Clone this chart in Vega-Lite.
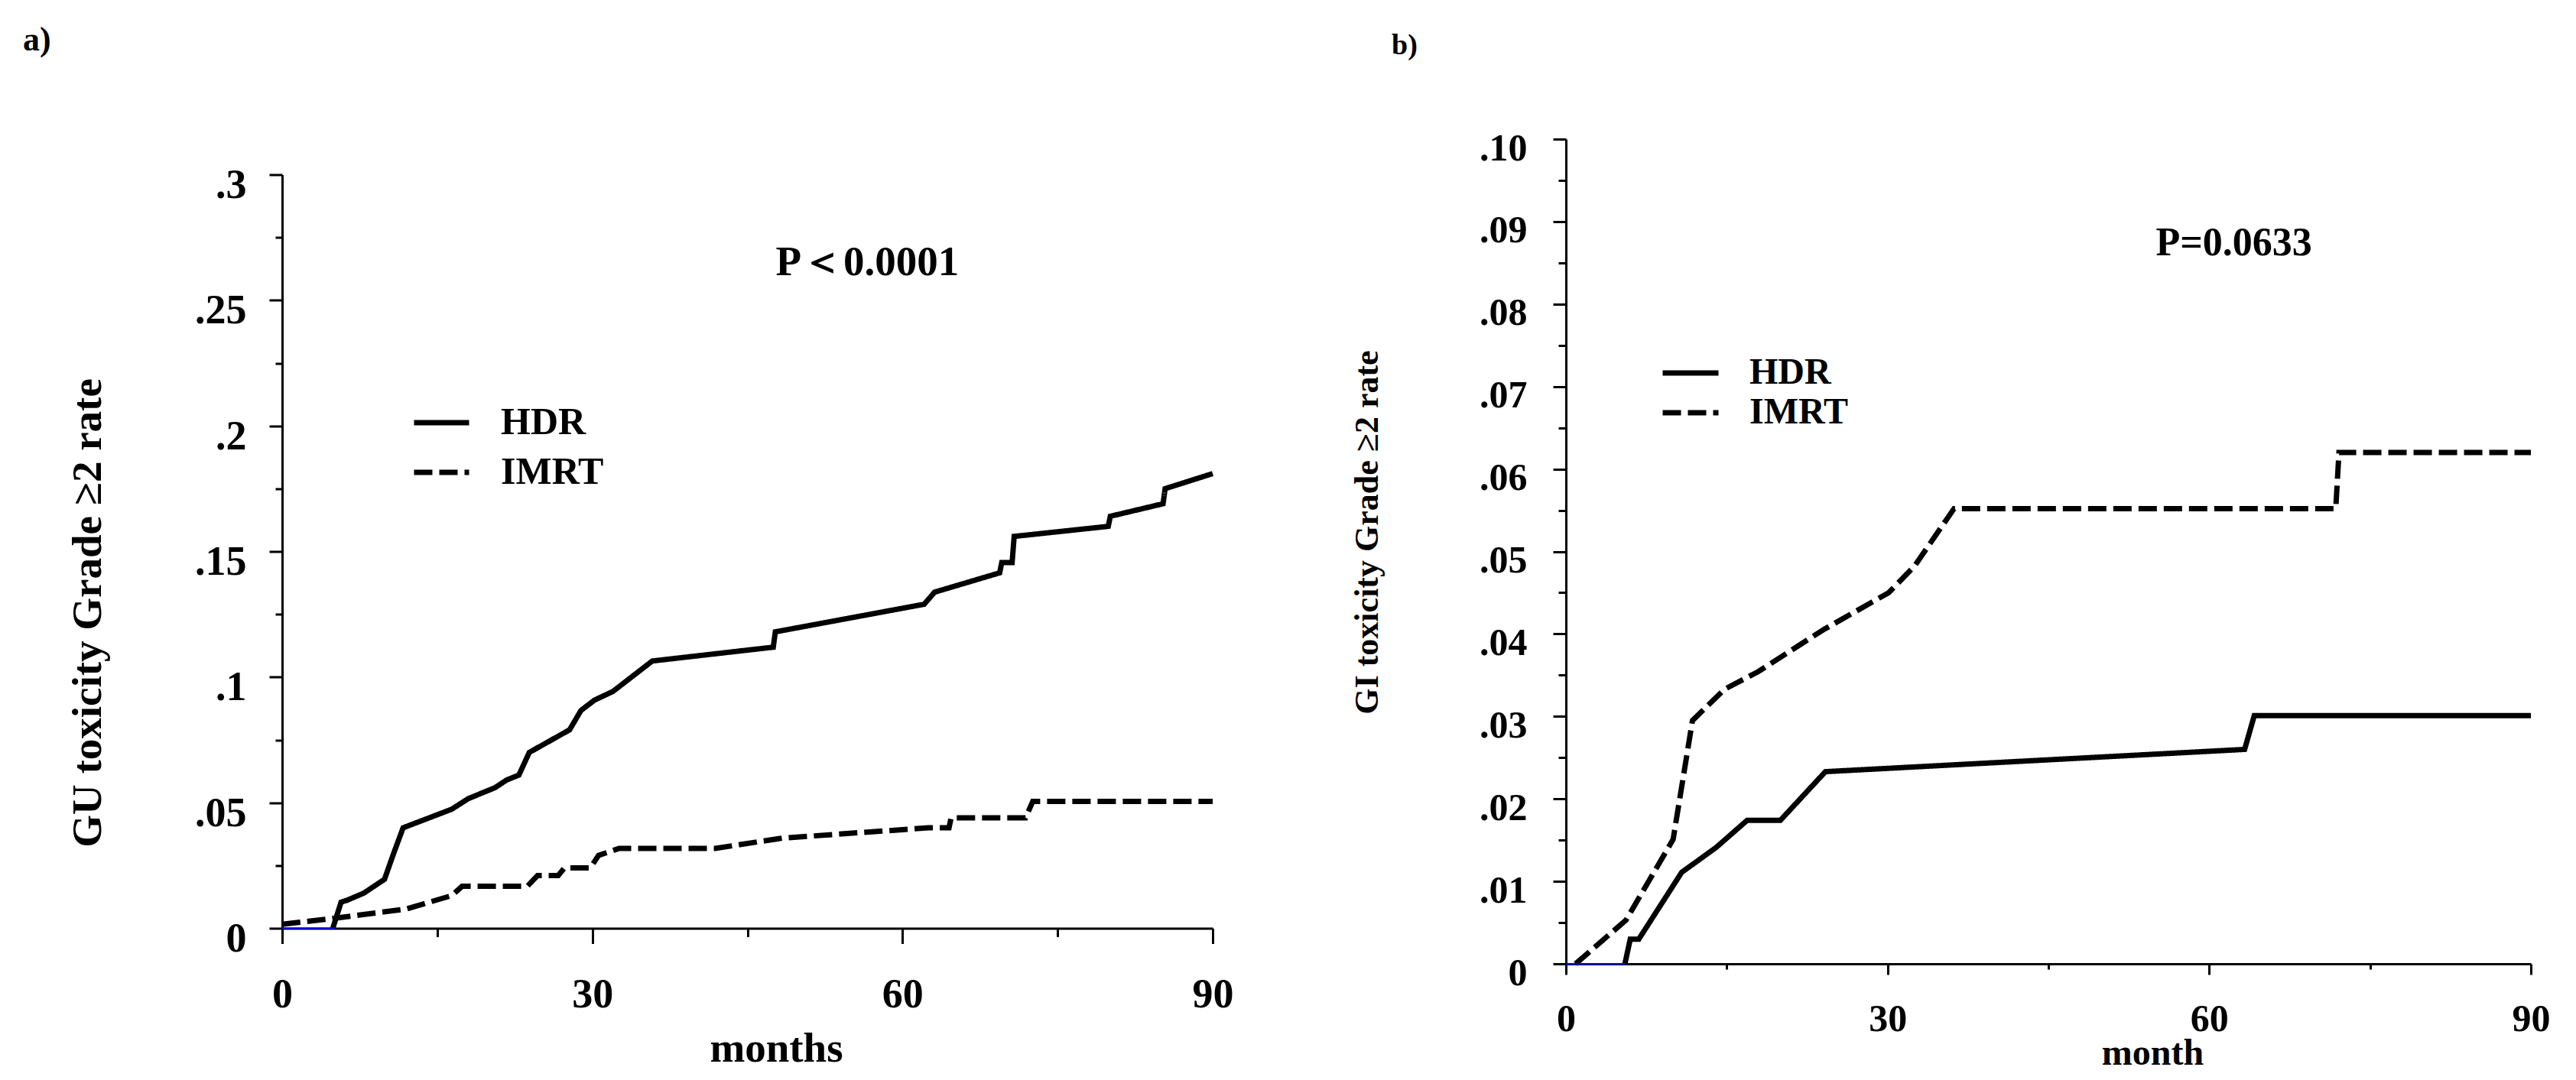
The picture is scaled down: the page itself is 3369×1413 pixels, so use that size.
{
  "$schema": "https://vega.github.io/schema/vega-lite/v6.json",
  "padding": {"left": 30, "top": 30, "right": 5, "bottom": 5},
  "background": "white",
  "datasets": {
    "gu": [
      {"group": "HDR", "month": 4.9, "rate": 0},
      {"group": "HDR", "month": 5.7, "rate": 0.0104},
      {"group": "HDR", "month": 6.3, "rate": 0.0112},
      {"group": "HDR", "month": 7.9, "rate": 0.014},
      {"group": "HDR", "month": 9.9, "rate": 0.0195},
      {"group": "HDR", "month": 10.8, "rate": 0.03},
      {"group": "HDR", "month": 11.7, "rate": 0.04},
      {"group": "HDR", "month": 16.4, "rate": 0.0474},
      {"group": "HDR", "month": 18.0, "rate": 0.0516},
      {"group": "HDR", "month": 20.6, "rate": 0.056},
      {"group": "HDR", "month": 21.7, "rate": 0.059},
      {"group": "HDR", "month": 22.9, "rate": 0.061},
      {"group": "HDR", "month": 23.9, "rate": 0.07},
      {"group": "HDR", "month": 27.8, "rate": 0.079},
      {"group": "HDR", "month": 28.9, "rate": 0.0867},
      {"group": "HDR", "month": 30.2, "rate": 0.0908},
      {"group": "HDR", "month": 32.0, "rate": 0.0943},
      {"group": "HDR", "month": 35.8, "rate": 0.1064},
      {"group": "HDR", "month": 47.5, "rate": 0.1119},
      {"group": "HDR", "month": 47.7, "rate": 0.118},
      {"group": "HDR", "month": 62.1, "rate": 0.129},
      {"group": "HDR", "month": 63.1, "rate": 0.1338},
      {"group": "HDR", "month": 69.4, "rate": 0.1415},
      {"group": "HDR", "month": 69.6, "rate": 0.1456},
      {"group": "HDR", "month": 70.6, "rate": 0.1456},
      {"group": "HDR", "month": 70.8, "rate": 0.156},
      {"group": "HDR", "month": 79.9, "rate": 0.16},
      {"group": "HDR", "month": 80.1, "rate": 0.164},
      {"group": "HDR", "month": 85.2, "rate": 0.169},
      {"group": "HDR", "month": 85.4, "rate": 0.175},
      {"group": "HDR", "month": 90, "rate": 0.181},
      {"group": "IMRT", "month": 0, "rate": 0.0016},
      {"group": "IMRT", "month": 4.7, "rate": 0.0038},
      {"group": "IMRT", "month": 12.0, "rate": 0.0077},
      {"group": "IMRT", "month": 16.4, "rate": 0.013},
      {"group": "IMRT", "month": 17.4, "rate": 0.0167},
      {"group": "IMRT", "month": 23.7, "rate": 0.0167},
      {"group": "IMRT", "month": 24.7, "rate": 0.021},
      {"group": "IMRT", "month": 26.7, "rate": 0.021},
      {"group": "IMRT", "month": 27.3, "rate": 0.024},
      {"group": "IMRT", "month": 29.8, "rate": 0.024},
      {"group": "IMRT", "month": 30.6, "rate": 0.029},
      {"group": "IMRT", "month": 32.6, "rate": 0.0318},
      {"group": "IMRT", "month": 41.9, "rate": 0.0318},
      {"group": "IMRT", "month": 48.4, "rate": 0.0359},
      {"group": "IMRT", "month": 62.5, "rate": 0.04},
      {"group": "IMRT", "month": 64.5, "rate": 0.04},
      {"group": "IMRT", "month": 64.7, "rate": 0.044},
      {"group": "IMRT", "month": 71.9, "rate": 0.044},
      {"group": "IMRT", "month": 72.6, "rate": 0.0505},
      {"group": "IMRT", "month": 90, "rate": 0.0505}
    ],
    "gi": [
      {"group": "HDR", "month": 5.5, "rate": 0},
      {"group": "HDR", "month": 6.0, "rate": 0.003},
      {"group": "HDR", "month": 6.8, "rate": 0.003},
      {"group": "HDR", "month": 10.8, "rate": 0.0111},
      {"group": "HDR", "month": 14.0, "rate": 0.0141},
      {"group": "HDR", "month": 16.9, "rate": 0.0174},
      {"group": "HDR", "month": 20.0, "rate": 0.0174},
      {"group": "HDR", "month": 24.2, "rate": 0.0233},
      {"group": "HDR", "month": 63.3, "rate": 0.026},
      {"group": "HDR", "month": 64.2, "rate": 0.0301},
      {"group": "HDR", "month": 90, "rate": 0.0301},
      {"group": "IMRT", "month": 0.9, "rate": 0},
      {"group": "IMRT", "month": 5.6, "rate": 0.0053},
      {"group": "IMRT", "month": 10.0, "rate": 0.0151},
      {"group": "IMRT", "month": 11.8, "rate": 0.0295},
      {"group": "IMRT", "month": 14.8, "rate": 0.0333},
      {"group": "IMRT", "month": 17.9, "rate": 0.0354},
      {"group": "IMRT", "month": 24.0, "rate": 0.0405},
      {"group": "IMRT", "month": 30.1, "rate": 0.045},
      {"group": "IMRT", "month": 32.5, "rate": 0.0482},
      {"group": "IMRT", "month": 36.2, "rate": 0.0552},
      {"group": "IMRT", "month": 71.8, "rate": 0.0552},
      {"group": "IMRT", "month": 72.1, "rate": 0.062},
      {"group": "IMRT", "month": 90, "rate": 0.062}
    ],
    "base_a": [{"month": 0, "rate": 0}, {"month": 5.1, "rate": 0}],
    "base_b": [{"month": 0, "rate": 0}, {"month": 5.5, "rate": 0}],
    "p_a": [{"month": 56.6, "rate": 0.2653, "label": "P＜0.0001"}],
    "p_b": [{"month": 62.3, "rate": 0.0874, "label": "P=0.0633"}]
  },
  "config": {
    "view": {"stroke": null},
    "font": "Liberation Serif",
    "axis": {
      "grid": false,
      "labelFont": "Liberation Serif",
      "labelFontWeight": "bold",
      "labelColor": "black",
      "titleFont": "Liberation Serif",
      "titleFontWeight": "bold",
      "titleColor": "black",
      "domainColor": "black",
      "domainWidth": 3,
      "tickColor": "black",
      "tickWidth": 3,
      "labelFlush": false,
      "labelOverlap": false,
      "labelBound": false
    },
    "legend": {
      "labelFont": "Liberation Serif",
      "labelFontWeight": "bold",
      "labelColor": "black",
      "padding": 0
    },
    "title": {"font": "Liberation Serif", "fontWeight": "bold", "color": "black"}
  },
  "bounds": "flush",
  "center": true,
  "spacing": 462,
  "hconcat": [
    {
      "width": 1217,
      "height": 986,
      "title": {"text": "a)", "anchor": "start", "frame": "group", "dx": -339, "offset": 106, "baseline": "alphabetic", "fontSize": 44},
      "layer": [
        {
          "data": {"name": "gu"},
          "mark": {"type": "line", "color": "black", "strokeWidth": 7},
          "encoding": {
            "x": {
              "field": "month", "type": "quantitative",
              "scale": {"domain": [0, 90], "nice": false},
              "title": "months",
              "axis": {
                "values": [0, 15, 30, 45, 60, 75, 90],
                "labelExpr": "datum.value % 30 == 0 ? datum.label : ''",
                "tickSize": {"condition": {"test": "datum.value % 30 == 0", "value": 20}, "value": 11},
                "labelFontSize": 54,
                "labelPadding": 40,
                "labelBaseline": "top",
                "titleFontSize": 55,
                "titleX": 646,
                "titlePadding": 17
              }
            },
            "y": {
              "field": "rate", "type": "quantitative",
              "scale": {"domain": [0, 0.3], "nice": false},
              "title": "GU toxicity Grade ≥2  rate",
              "axis": {
                "values": [0, 0.025, 0.05, 0.075, 0.1, 0.125, 0.15, 0.175, 0.2, 0.225, 0.25, 0.275, 0.3],
                "labelExpr": "abs(datum.value*20 - round(datum.value*20)) < 0.000001 ? (datum.value == 0 ? '0' : replace(format(datum.value, '.2~f'), '0.', '.')) : ''",
                "tickSize": {"condition": {"test": "abs(datum.value*20 - round(datum.value*20)) < 0.000001", "value": 17}, "value": 9},
                "labelFontSize": 54,
                "labelPadding": 30,
                "labelOffset": 14,
                "labelBaseline": "middle",
                "titleFontSize": 55,
                "titleX": -226,
                "titleY": 573
              }
            },
            "strokeDash": {
              "field": "group", "type": "nominal",
              "scale": {"domain": ["HDR", "IMRT"], "range": [[1, 0], [24, 9]]},
              "legend": {
                "orient": "none", "legendX": 169, "legendY": 285, "title": null,
                "symbolType": "stroke", "symbolSize": 5184, "symbolStrokeWidth": 7,
                "symbolStrokeColor": "black",
                "labelFontSize": 50, "labelOffset": 38, "rowPadding": 0
              }
            }
          }
        },
        {
          "data": {"name": "base_a"},
          "mark": {"type": "line", "color": "#0000ff", "strokeWidth": 2},
          "encoding": {
            "x": {"field": "month", "type": "quantitative"},
            "y": {"field": "rate", "type": "quantitative"}
          }
        },
        {
          "data": {"name": "p_a"},
          "mark": {"type": "text", "font": "Liberation Serif", "fontWeight": "bold", "fontSize": 55, "color": "black", "align": "center", "baseline": "middle"},
          "encoding": {
            "x": {"field": "month", "type": "quantitative"},
            "y": {"field": "rate", "type": "quantitative"},
            "text": {"field": "label"}
          }
        }
      ]
    },
    {
      "width": 1262,
      "height": 1079,
      "title": {"text": "b)", "anchor": "start", "frame": "group", "dx": -228, "offset": 60, "baseline": "alphabetic", "fontSize": 38},
      "layer": [
        {
          "data": {"name": "gi"},
          "mark": {"type": "line", "color": "black", "strokeWidth": 7},
          "encoding": {
            "x": {
              "field": "month", "type": "quantitative",
              "scale": {"domain": [0, 90], "nice": false},
              "title": "month",
              "axis": {
                "values": [0, 15, 30, 45, 60, 75, 90],
                "labelExpr": "datum.value % 30 == 0 ? datum.label : ''",
                "tickSize": {"condition": {"test": "datum.value % 30 == 0", "value": 14}, "value": 7},
                "labelFontSize": 50,
                "labelPadding": 33,
                "labelBaseline": "top",
                "titleFontSize": 48,
                "titleX": 767,
                "titlePadding": -4
              }
            },
            "y": {
              "field": "rate", "type": "quantitative",
              "scale": {"domain": [0, 0.1], "nice": false},
              "title": "GI toxicity Grade ≥2  rate",
              "axis": {
                "values": [0, 0.005, 0.01, 0.015, 0.02, 0.025, 0.03, 0.035, 0.04, 0.045, 0.05, 0.055, 0.06, 0.065, 0.07, 0.075, 0.08, 0.085, 0.09, 0.095, 0.1],
                "labelExpr": "abs(datum.value*100 - round(datum.value*100)) < 0.000001 ? (datum.value == 0 ? '0' : replace(format(datum.value, '.2f'), '0.', '.')) : ''",
                "tickSize": {"condition": {"test": "abs(datum.value*100 - round(datum.value*100)) < 0.000001", "value": 17}, "value": 10},
                "labelFontSize": 50,
                "labelPadding": 34,
                "labelOffset": 12,
                "labelBaseline": "middle",
                "titleFontSize": 44,
                "titleX": -238,
                "titleY": 514
              }
            },
            "strokeDash": {
              "field": "group", "type": "nominal",
              "scale": {"domain": ["HDR", "IMRT"], "range": [[1, 0], [24, 9]]},
              "legend": {
                "orient": "none", "legendX": 139, "legendY": 282, "title": null,
                "symbolType": "M-2,0H2", "symbolSize": 1332, "symbolStrokeWidth": 7,
                "symbolStrokeColor": "black", "symbolFillColor": "transparent",
                "labelFontSize": 48, "labelOffset": 53, "rowPadding": 4
              }
            }
          }
        },
        {
          "data": {"name": "base_b"},
          "mark": {"type": "line", "color": "#0000ff", "strokeWidth": 2},
          "encoding": {
            "x": {"field": "month", "type": "quantitative"},
            "y": {"field": "rate", "type": "quantitative"}
          }
        },
        {
          "data": {"name": "p_b"},
          "mark": {"type": "text", "font": "Liberation Serif", "fontWeight": "bold", "fontSize": 52, "color": "black", "align": "center", "baseline": "middle"},
          "encoding": {
            "x": {"field": "month", "type": "quantitative"},
            "y": {"field": "rate", "type": "quantitative"},
            "text": {"field": "label"}
          }
        }
      ]
    }
  ],
  "resolve": {"scale": {"strokeDash": "independent"}}
}
